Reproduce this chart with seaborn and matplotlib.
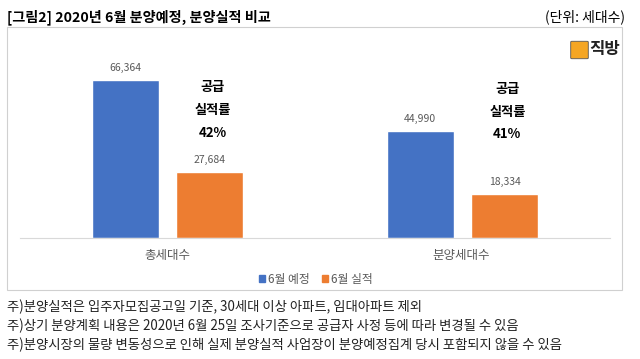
import pandas as pd
import seaborn as sns
import matplotlib.pyplot as plt
from matplotlib.patches import Rectangle, FancyBboxPatch

# 데이터
categories = ['총세대수', '분양세대수']
series = ['6월 예정', '6월 실적']
planned = [66364, 44990]
actual = [27684, 18334]
rates = ['42%', '41%']

df = pd.DataFrame({
    'cat': categories * 2,
    'series': [series[0]] * 2 + [series[1]] * 2,
    'value': planned + actual,
})

sns.set_theme(style='white')
plt.rcParams['font.family'] = ['Noto Sans CJK KR', 'DejaVu Sans']

W, H = 640, 359
fig = plt.figure(figsize=(W / 100, H / 100), dpi=100)

def fx(px):
    return px / W

def fy(py):
    return 1 - py / H

# 차트 박스
fig.patches.append(Rectangle((fx(7), fy(290)), fx(615), (290 - 27) / H,
                             transform=fig.transFigure, fill=False,
                             edgecolor='#D0D0D0', linewidth=0.8))

ax = fig.add_axes([fx(20), fy(238), fx(590), (238 - 47.5) / H])
colors = ['#4472C4', '#ED7D31']
sns.barplot(data=df, x='cat', y='value', hue='series', palette=colors,
            width=0.573, gap=0.21, ax=ax, legend=False, saturation=1)
ax.set_ylim(0, 80000)
ax.set_xlim(-0.5, 1.5)
ax.set_xlabel('')
ax.set_ylabel('')
ax.set_yticks([])
ax.set_xticks([])
for s in ['top', 'left', 'right']:
    ax.spines[s].set_visible(False)
ax.spines['bottom'].set_color('#D9D9D9')
ax.spines['bottom'].set_linewidth(0.8)

for container in ax.containers:
    ax.bar_label(container, fmt='{:,.0f}', padding=5, fontsize=7.5, color='#595959')

# 공급 실적률 주석
for i, r in enumerate(rates):
    for j, t in enumerate(['공급', '실적률', r]):
        ax.text(i + 0.152, 63300 - j * 9500 - i * 800, t, ha='center', va='center',
                fontsize=9.5, fontweight='bold', color='black')

# 카테고리 라벨
for i, c in enumerate(categories):
    fig.text(fx(167 + 294 * i), fy(255), c, ha='center', va='center',
             fontsize=9, color='#595959')

# 범례
handles = [Rectangle((0, 0), 1, 1, color=c) for c in colors]
fig.legend(handles, series, loc='center', bbox_to_anchor=(fx(316), fy(279)),
           ncol=2, frameon=False, fontsize=8.5, handlelength=0.55,
           handleheight=0.55, handletextpad=0.25, columnspacing=1.0,
           labelcolor='#595959')

# 제목
fig.text(fx(7), fy(17), '[그림2] 2020년 6월 분양예정, 분양실적 비교',
         ha='left', va='center', fontsize=10.2, fontweight='bold', color='black')
fig.text(fx(625), fy(17), '(단위: 세대수)', ha='right', va='center',
         fontsize=10, color='black')

# 로고
fig.patches.append(FancyBboxPatch((fx(572), fy(58)), fx(15), 16 / H,
                                  boxstyle='round,pad=0.002', transform=fig.transFigure,
                                  facecolor='#F5A623', edgecolor='#555555', linewidth=0.6))
fig.text(fx(589), fy(49), '직방', ha='left', va='center', fontsize=12,
         fontweight='bold', color='#222222')

# 주석
notes = [
    '주)분양실적은 입주자모집공고일 기준, 30세대 이상 아파트, 임대아파트 제외',
    '주)상기 분양계획 내용은 2020년 6월 25일 조사기준으로 공급자 사정 등에 따라 변경될 수 있음',
    '주)분양시장의 물량 변동성으로 인해 실제 분양실적 사업장이 분양예정집계 당시 포함되지 않을 수 있음',
]
for k, n in enumerate(notes):
    fig.text(fx(7), fy(307 + 19 * k), n, ha='left', va='center',
             fontsize=9.6, color='#222222')

fig.savefig('out.png', dpi=100)
